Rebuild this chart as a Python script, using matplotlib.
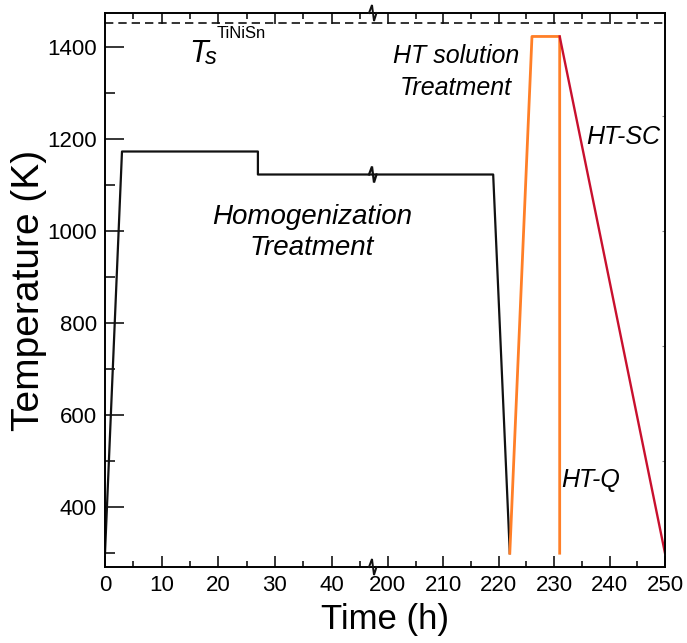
import matplotlib
matplotlib.use("Agg")
import matplotlib.pyplot as plt
from matplotlib.lines import Line2D
from matplotlib.transforms import IdentityTransform

plt.rcParams["font.family"] = ["Liberation Sans", "DejaVu Sans"]

# heat-treatment schedule (time in h, temperature in K)
homog_time = [0, 3, 27, 27, 219, 222]
homog_temp = [300, 1173, 1173, 1123, 1123, 300]
solution_time = [222, 226, 231, 231]
solution_temp = [300, 1423, 1423, 300]
slowcool_time = [231, 250]
slowcool_temp = [1423, 300]
T_SOLIDUS = 1453

LEFT_LIM = (0, 47.5)
RIGHT_LIM = (197.5, 250)
YLIM = (270, 1474)

BLACK = "#111111"
ORANGE = "#ff7f27"
RED = "#c8102e"

fig = plt.figure(figsize=(6.87, 6.43), dpi=100)
x0, x1, xb = 105 / 687, 665 / 687, 374 / 687
y0, y1 = 1 - 567 / 643, 1 - 13 / 643
ax_l = fig.add_axes([x0, y0, xb - x0, y1 - y0])
ax_r = fig.add_axes([xb, y0, x1 - xb, y1 - y0])

for ax, lim in ((ax_l, LEFT_LIM), (ax_r, RIGHT_LIM)):
    ax.patch.set_visible(False)
    ax.plot(homog_time, homog_temp, color=BLACK, lw=1.6)
    ax.plot(solution_time, solution_temp, color=ORANGE, lw=2.0)
    ax.plot(slowcool_time, slowcool_temp, color=RED, lw=1.7)
    ax.axhline(T_SOLIDUS, color=BLACK, lw=1.2, dashes=(5, 3))
    ax.set_xlim(*lim)
    ax.set_ylim(*YLIM)
    ax.set_xticks([t for t in range(0, 251, 5) if lim[0] <= t <= lim[1] and t % 10], minor=True)
    ax.tick_params(axis="x", which="both", direction="in", top=True, width=1.1,
                   labelsize=16, pad=6)
    ax.tick_params(axis="x", which="major", length=8)
    ax.tick_params(axis="x", which="minor", length=4.5)
    for sp in ax.spines.values():
        sp.set_linewidth(1.4)

ax_l.set_xticks(range(0, 41, 10))
ax_r.set_xticks(range(200, 251, 10))
ax_l.spines["right"].set_visible(False)
ax_r.spines["left"].set_visible(False)

ax_l.set_yticks(range(400, 1401, 200))
ax_l.set_yticks(range(300, 1401, 200), minor=True)
ax_l.tick_params(axis="y", which="both", direction="in", width=1.1, labelsize=16, pad=6)
ax_l.tick_params(axis="y", which="major", length=14)
ax_l.tick_params(axis="y", which="minor", length=7)
ax_r.set_yticks([500, 750, 1000, 1250])
ax_r.tick_params(axis="y", which="major", left=False, labelleft=False, right=True,
                 direction="in", length=2, width=0.8, color="#888888")

ax_l.set_ylabel("Temperature (K)", fontsize=28)
ax_l.yaxis.set_label_coords(-0.215, 0.5)
fig.text((x0 + x1) / 2, 0.036, "Time (h)", fontsize=25, ha="center", va="center")

# solidus label: T with subscript s and superscript TiNiSn
ax_l.annotate("T", xy=(14.8, 1367), fontsize=22, style="italic", va="baseline")
ax_l.annotate("s", xy=(14.8, 1367), xytext=(16, -2), textcoords="offset pixels",
              fontsize=17, style="italic", va="baseline")
ax_l.annotate("TiNiSn", xy=(14.8, 1367), xytext=(28, 24), textcoords="offset pixels",
              fontsize=12, va="baseline")

ax_l.text(36.5, 996, "Homogenization\nTreatment", fontsize=20, style="italic",
          ha="center", va="center", multialignment="center", clip_on=False,
          linespacing=1.25)
ax_r.text(212.3, 1346, "HT solution\nTreatment", fontsize=18, style="italic",
          ha="center", va="center", multialignment="center", linespacing=1.4)
ax_r.text(242.4, 1204, "HT-SC", fontsize=18, style="italic", ha="center", va="center")
ax_r.text(236.6, 459, "HT-Q", fontsize=18, style="italic", ha="center", va="center")

# zig-zag break marks where the two panels meet
zig_dx = [-5, -2, 0, 2.5]
zig_dy = [0, 8, -8, 0]
for yval in (YLIM[0], homog_temp[3], YLIM[1]):
    cx, cy = ax_l.transData.transform((LEFT_LIM[1], yval))
    lw = 1.4 if yval != homog_temp[3] else 1.6
    fig.add_artist(Line2D([cx + dx for dx in zig_dx], [cy + dy for dy in zig_dy],
                          transform=IdentityTransform(), color=BLACK, lw=lw,
                          solid_joinstyle="miter"))

fig.savefig("out.png", dpi=100)
